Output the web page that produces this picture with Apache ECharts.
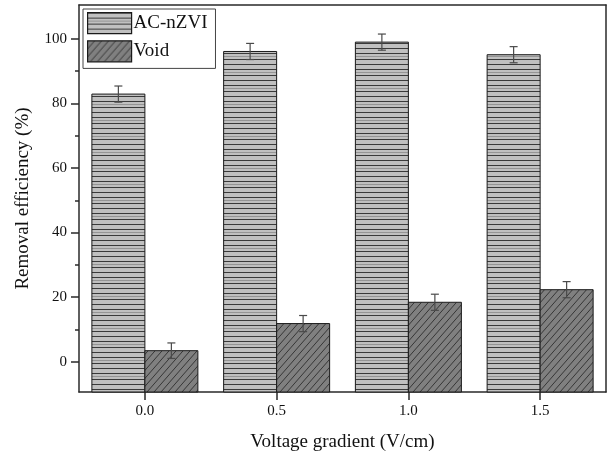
<!DOCTYPE html>
<html>
<head>
<meta charset="utf-8">
<script src="https://cdn.jsdelivr.net/npm/echarts@6/dist/echarts.min.js"></script>
<style>
  html, body { margin: 0; padding: 0; background: #fff; }
  #chart { width: 612px; height: 459px; }
</style>
</head>
<body>
<div id="chart"></div>
<script>
// Voltage gradient categories (V/cm)
const categories = ['0.0', '0.5', '1.0', '1.5'];

// Removal efficiency (%) and standard deviations
const acNZVI = [82.9, 96.1, 99.0, 95.1];
const acNZVIErr = [2.5, 2.5, 2.5, 2.5];
const voidVals = [3.4, 11.8, 18.4, 22.3];
const voidErr = [2.4, 2.5, 2.5, 2.5];

// Y axis tick marks
const yMajorTicks = [0, 20, 40, 60, 80, 100];
const yMinorTicks = [10, 30, 50, 70, 90];

const Y_MIN = -9.4, Y_MAX = 110.5;
const FONT = '"Liberation Serif", "Times New Roman", serif';
const BAR_W = 53;

// Horizontal line fill for AC-nZVI bars
function makeHLinePattern() {
  const c = document.createElement('canvas');
  c.width = 8; c.height = 16;
  const g = c.getContext('2d');
  g.fillStyle = '#c0c0c0';
  g.fillRect(0, 0, 8, 16);
  g.fillStyle = '#3a3a3a';
  g.fillRect(0, 0, 8, 1);
  g.fillRect(0, 5, 8, 1);
  g.fillRect(0, 11, 8, 1);
  g.fillStyle = '#959595';
  g.fillRect(0, 8, 8, 1);
  return c;
}

// Diagonal hatch fill for Void bars
function makeDiagPattern() {
  const w = 7, h = 8;
  const c = document.createElement('canvas');
  c.width = w; c.height = h;
  const g = c.getContext('2d');
  g.fillStyle = '#808080';
  g.fillRect(0, 0, w, h);
  g.strokeStyle = '#2e2e2e';
  g.lineWidth = 0.9;
  g.beginPath();
  g.moveTo(-w, 2 * h); g.lineTo(2 * w, -h);
  g.moveTo(-2 * w, 2 * h); g.lineTo(w, -h);
  g.moveTo(0, 2 * h); g.lineTo(3 * w, -h);
  g.stroke();
  return c;
}

const hPattern = { image: makeHLinePattern(), repeat: 'repeat' };
const dPattern = { image: makeDiagPattern(), repeat: 'repeat' };

// Bars rise from the bottom of the plot frame; shift places each bar beside the category centre
function barRenderer(shift, fill) {
  return function (params, api) {
    const idx = api.value(0);
    const top = api.coord([idx, api.value(1)]);
    const base = api.coord([idx, Y_MIN]);
    const x = top[0] + shift - BAR_W / 2;
    return {
      type: 'rect',
      shape: { x: x, y: top[1], width: BAR_W, height: base[1] - top[1] },
      style: { fill: fill, stroke: '#1a1a1a', lineWidth: 1 }
    };
  };
}

// Error bar drawn as an I-shape at the centre of its bar
function errorRenderer(shift) {
  return function (params, api) {
    const idx = api.value(0);
    const v = api.value(1);
    const e = api.value(2);
    const hi = api.coord([idx, v + e]);
    const lo = api.coord([idx, v - e]);
    const x = hi[0] + shift;
    const cap = 4;
    const style = { stroke: '#4a4a4a', lineWidth: 1.2, fill: null };
    return {
      type: 'group',
      children: [
        { type: 'line', shape: { x1: x, y1: hi[1], x2: x, y2: lo[1] }, style },
        { type: 'line', shape: { x1: x - cap, y1: hi[1], x2: x + cap, y2: hi[1] }, style },
        { type: 'line', shape: { x1: x - cap, y1: lo[1], x2: x + cap, y2: lo[1] }, style }
      ]
    };
  };
}

const chart = echarts.init(document.getElementById('chart'), null, { renderer: 'canvas' });

const axisLine = { show: true, onZero: false, lineStyle: { color: '#2a2a2a', width: 1.5 } };

chart.setOption({
  animation: false,
  backgroundColor: '#ffffff',
  textStyle: { fontFamily: FONT },
  grid: { left: 79, right: 6, top: 5, bottom: 67, containLabel: false },
  legend: {
    orient: 'vertical',
    left: 83, top: 9,
    padding: [3, 8, 6, 4],
    itemWidth: 44, itemHeight: 21, itemGap: 6,
    borderColor: '#444', borderWidth: 1,
    icon: 'rect',
    itemStyle: { borderColor: '#1a1a1a', borderWidth: 1.2 },
    textStyle: { fontFamily: FONT, fontSize: 19, color: '#111', padding: [0, 0, 0, -3] },
    data: [
      { name: 'AC-nZVI', itemStyle: { color: hPattern, borderColor: '#1a1a1a', borderWidth: 1.2 } },
      { name: 'Void', itemStyle: { color: dPattern, borderColor: '#1a1a1a', borderWidth: 1.2 } }
    ]
  },
  xAxis: [
    {
      type: 'category',
      data: categories,
      position: 'bottom',
      axisLine,
      axisTick: { show: true, alignWithLabel: true, inside: false, length: 8, lineStyle: { color: '#2a2a2a', width: 1.5 } },
      axisLabel: { fontFamily: FONT, fontSize: 15, color: '#111', margin: 12 },
      splitLine: { show: false },
      name: 'Voltage gradient (V/cm)',
      nameLocation: 'middle',
      nameGap: 41,
      nameTextStyle: { fontFamily: FONT, fontSize: 19, color: '#111' }
    },
    {
      type: 'category',
      data: categories,
      position: 'top',
      axisLine,
      axisTick: { show: false },
      axisLabel: { show: false }
    }
  ],
  yAxis: [
    {
      type: 'value',
      min: Y_MIN, max: Y_MAX,
      position: 'left',
      axisLine,
      axisTick: { show: true, length: 8, customValues: yMajorTicks, lineStyle: { color: '#2a2a2a', width: 1.5 } },
      axisLabel: { fontFamily: FONT, fontSize: 15, color: '#111', margin: 12, customValues: yMajorTicks },
      splitLine: { show: false },
      name: 'Removal efficiency (%)',
      nameLocation: 'middle',
      nameGap: 46,
      nameTextStyle: { fontFamily: FONT, fontSize: 19, color: '#111' }
    },
    {
      type: 'value',
      min: Y_MIN, max: Y_MAX,
      position: 'left',
      axisLine: { show: false },
      axisTick: { show: true, length: 4, customValues: yMinorTicks, lineStyle: { color: '#2a2a2a', width: 1.5 } },
      axisLabel: { show: false },
      splitLine: { show: false }
    },
    {
      type: 'value',
      min: Y_MIN, max: Y_MAX,
      position: 'right',
      axisLine,
      axisTick: { show: false },
      axisLabel: { show: false },
      splitLine: { show: false }
    }
  ],
  series: [
    {
      name: 'AC-nZVI',
      type: 'custom',
      renderItem: barRenderer(-BAR_W / 2, hPattern),
      data: acNZVI.map((v, i) => [i, v]),
      itemStyle: { color: hPattern, borderColor: '#1a1a1a', borderWidth: 1 },
      z: 2
    },
    {
      name: 'Void',
      type: 'custom',
      renderItem: barRenderer(BAR_W / 2, dPattern),
      data: voidVals.map((v, i) => [i, v]),
      itemStyle: { color: dPattern, borderColor: '#1a1a1a', borderWidth: 1 },
      z: 2
    },
    {
      type: 'custom',
      renderItem: errorRenderer(-BAR_W / 2),
      data: acNZVI.map((v, i) => [i, v, acNZVIErr[i]]),
      z: 5,
      silent: true
    },
    {
      type: 'custom',
      renderItem: errorRenderer(BAR_W / 2),
      data: voidVals.map((v, i) => [i, v, voidErr[i]]),
      z: 5,
      silent: true
    }
  ]
});
</script>
</body>
</html>
